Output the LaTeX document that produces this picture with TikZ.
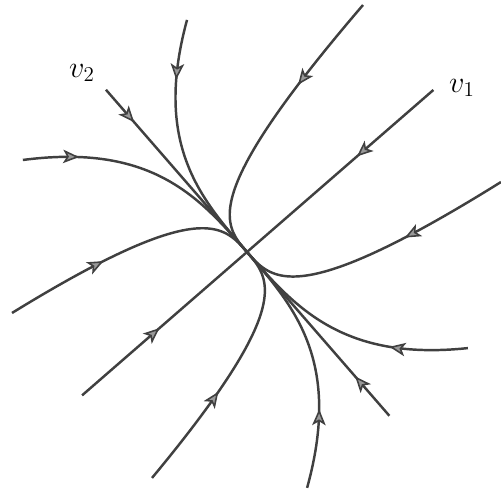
\documentclass[tikz,border=0pt]{standalone}
\usepackage{tikz}
\usetikzlibrary{arrows.meta,decorations.markings}

\begin{document}
\begin{tikzpicture}[
    orbit/.style={line width=1.4pt, draw=black!75, postaction={decorate}},
    flowmark/.style={decoration={markings,
        mark=at position #1 with {\arrow{>}}}},
    >={Stealth[length=3.2mm, width=2.7mm, inset=0.8mm, fill=black!40, line width=0.9pt]},
    declare function={cube(\a)=\a*\a*\a;}
  ]
    \useasboundingbox (-4.94,-4.80) rectangle (5.08,5.04);
    \coordinate (O) at (0,0);
    \begin{scope}[rotate=41]
      % straight orbits along v1 (x axis) and v2 (y axis)
      \foreach \u/\w/\p in {4.94/0/0.41, -4.37/0/0.47, 0/4.30/0.2, 0/-4.34/0.24}
        \draw[orbit, flowmark=\p] (\u,\w) -- (O);
      % curved orbits  u = c w^3
      \foreach \c/\w/\p in {0.0271/4.29/0.24, -0.0268/4.33/0.22,
                            -0.4295/2.163/0.4, 0.465/2.206/0.35,
                            0.434/-2.164/0.41, 0.0266/-4.349/0.31,
                            -0.0252/-4.349/0.31, -0.403/-2.276/0.39}
        \draw[orbit, flowmark=\p] plot[domain=0:1, samples=60]
          ({\c*cube(\w*(1-\x))}, {\w*(1-\x)});
    \end{scope}
    \node[font=\LARGE] (labtwo) at (-3.3,3.58) {$v_2$};
    \node[font=\LARGE] (labone) at (4.3,3.28) {$v_1$};
  \end{tikzpicture}
\end{document}
